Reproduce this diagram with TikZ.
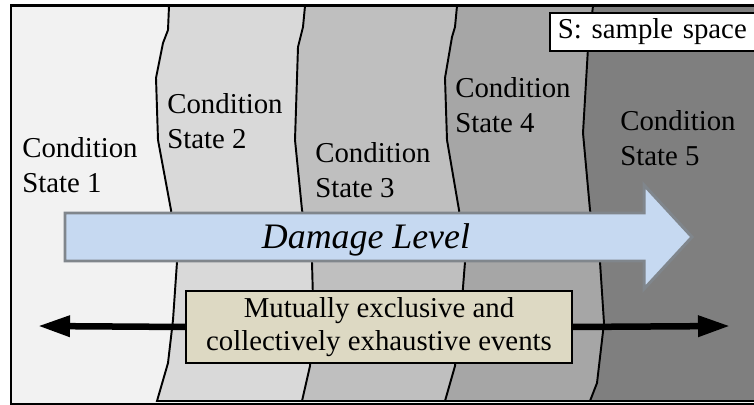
\documentclass[tikz,border=0pt]{standalone}
\usepackage{fontspec}
\setmainfont{Liberation Serif}
\usepackage{tikz}
\usetikzlibrary{arrows.meta}
\usepackage{xcolor}
\definecolor{etat1}{HTML}{F2F2F2}
\definecolor{etat2}{HTML}{D9D9D9}
\definecolor{etat3}{HTML}{BFBFBF}
\definecolor{etat4}{HTML}{A6A6A6}
\definecolor{etat5}{HTML}{7F7F7F}
\definecolor{bleuclair}{HTML}{C6D9F1}
\definecolor{grisbord}{RGB}{128,134,140}
\definecolor{beige}{HTML}{DDD9C3}

\tikzset{
  zone/.style={draw=black, line width=1.1pt},
  etiq/.style={anchor=north west, inner sep=0pt, align=left},
  fleche/.style={draw=grisbord, fill=bleuclair, line width=1.7pt},
  boite/.style={draw, fill=beige, line width=1.1pt, minimum width=7.72cm, minimum height=1.44cm,
    align=center, font=\fontsize{16.4}{18.4}\selectfont},
  trait/.style={line width=3.7pt, -{Triangle[length=0.64cm, width=0.4cm]}}
}

\begin{document}
\begin{tikzpicture}[x=0.02cm, y=0.02cm, font=\fontsize{16.4}{19.8}\selectfont]
  \useasboundingbox (0,0) rectangle (754,405);
  \clip (0,0) rectangle (754,405);

  % Espace S (etat 1)
  \fill[etat1] (11,1) rectangle (800,399);

  % Zones des etats 2 a 5
  \draw[zone, fill=etat2] plot coordinates {(169,399) (168,375) (163,362) (156,327) (158,265) (171,195) (177,143) (173,85) (168,42) (157,4)}
    -- (800,4) -- (800,399) -- cycle;
  \draw[zone, fill=etat3] plot coordinates {(305,399) (303,378) (298,358) (295,265) (302,195) (312,143) (313,105) (310,39) (302,4)}
    -- (800,4) -- (800,399) -- cycle;
  \draw[zone, fill=etat4] plot coordinates {(457,399) (455,378) (452,368) (445,327) (447,265) (459,195) (465,143) (462,105) (455,39) (445,4)}
    -- (800,4) -- (800,399) -- cycle;
  \draw[zone, fill=etat5] plot coordinates {(593,399) (588,357) (583,272) (590,195) (600,143) (604,82) (597,22) (590,4)}
    -- (800,4) -- (800,399) -- cycle;

  % Cadre
  \draw[line width=1.7pt] (11,1) rectangle (800,399);

  \node[draw, fill=white, line width=1.1pt, anchor=north west, minimum height=0.7cm,
    text width=5cm, inner xsep=0.16cm] (espace) at (549,393) {S: sample space};

  % Etiquettes
  \node[etiq] (cs1) at (22,268) {Condition\\State 1};
  \node[etiq] (cs2) at (167,312) {Condition\\State 2};
  \node[etiq] (cs3) at (315,263) {Condition\\State 3};
  \node[etiq] (cs4) at (455,328) {Condition\\State 4};
  \node[etiq] (cs5) at (620,295) {Condition\\State 5};

  % Fleche du niveau de dommage
  \draw[fleche] (65,144) -- (644,144) -- (644,116) -- (692,168) -- (644,220) -- (644,192) -- (65,192) -- cycle;
  \node[anchor=base, font=\fontsize{20.4}{24}\selectfont\itshape] (niveau) at (366,156) {Damage Level};

  % Evenements
  \node[boite] (evts) at (379,78) {Mutually exclusive and\\collectively exhaustive events};
  \coordinate (gauche) at (38,79);
  \coordinate (droite) at (730,79);
  \draw[trait] (evts.west) -- (gauche);
  \draw[trait] (evts.east) -- (droite);
\end{tikzpicture}
\end{document}
